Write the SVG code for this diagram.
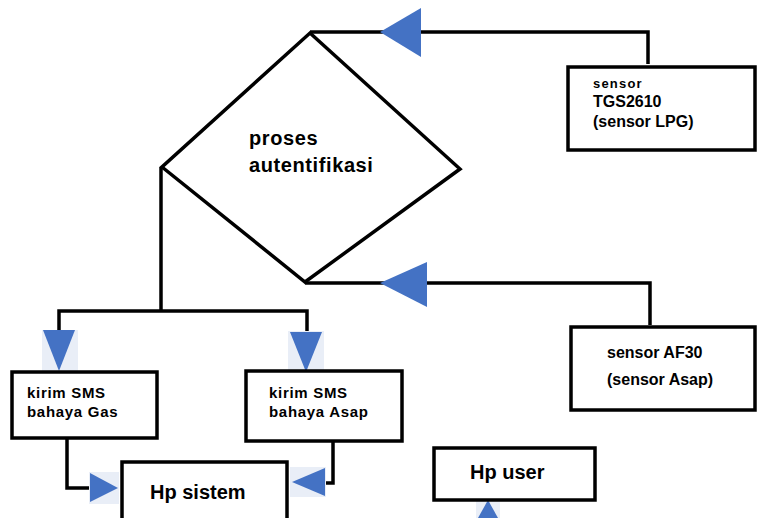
<svg xmlns="http://www.w3.org/2000/svg" width="757" height="518" viewBox="0 0 757 518">
<style>
.box{fill:#fff;stroke:#000;stroke-width:3.5}
.ln{fill:none;stroke:#000;stroke-width:3.5;stroke-linejoin:miter}
.ah{fill:#4472C4}
.bg{fill:#e9eef7}
text{font-family:"Liberation Sans",Arial,sans-serif;font-weight:bold;fill:#000}
.t{font-size:15px;letter-spacing:0.7px}
.ts{font-size:13px;letter-spacing:1.2px}
.tm{font-size:16px}
.tb{font-size:20px}
</style>
<rect width="757" height="518" fill="#fff"/>
<g id="connectors">
<polyline class="ln" points="310,32 648,32 648,64"/>
<polyline class="ln" points="305,283 650,283 650,325"/>
<polyline class="ln" points="161,167 161,311"/>
<polyline class="ln" points="59,332 59,311 307,311 307,333"/>
<polyline class="ln" points="67,438 67,488 92,488"/>
<polyline class="ln" points="333,442 333,483 322,483"/>
<line class="ln" x1="200" y1="512" x2="200" y2="518"/>
<rect class="bg" x="42" y="330" width="36" height="42"/>
<rect class="bg" x="288" y="331" width="36" height="42"/>
<rect class="bg" x="89" y="472" width="30" height="32"/>
<rect class="bg" x="290" y="467" width="36" height="30"/>
<rect class="bg" x="476" y="500" width="24" height="18"/>
<polygon class="ah" points="380,32 421,8 421,57"/>
<polygon class="ah" points="380,283 427,262 427,307"/>
<polygon class="ah" points="43,330 75,330 59,371"/>
<polygon class="ah" points="290,332 322,332 306,372"/>
<polygon class="ah" points="90,473 118,488 90,502"/>
<polygon class="ah" points="292,482 325,468 325,496"/>
<polygon class="ah" points="488,500 498,518 478,518"/>
</g>
<g id="proses">
<polygon class="box" points="310,33 460,169 305,282 162,167"/>
<text class="tb" x="249" y="145" letter-spacing="0.6">proses</text>
<text class="tb" x="249" y="172" letter-spacing="0.6">autentifikasi</text>
</g>
<g id="sensorLPG">
<rect class="box" x="568" y="67" width="187" height="83"/>
<text class="ts" x="593" y="88">sensor</text>
<text class="tm" x="593" y="107">TGS2610</text>
<text class="tm" x="593" y="127">(sensor LPG)</text>
</g>
<g id="sensorAsap">
<rect class="box" x="571" y="327" width="184" height="83"/>
<text class="tm" x="607" y="358">sensor AF30</text>
<text class="tm" x="607" y="385">(sensor Asap)</text>
</g>
<g id="smsGas">
<rect class="box" x="12" y="372" width="145" height="66"/>
<text class="t" x="27" y="398">kirim SMS</text>
<text class="t" x="27" y="417">bahaya Gas</text>
</g>
<g id="smsAsap">
<rect class="box" x="246" y="371" width="156" height="70"/>
<text class="t" x="269" y="398">kirim SMS</text>
<text class="t" x="269" y="417">bahaya Asap</text>
</g>
<g id="hpSistem">
<rect class="box" x="122" y="462" width="165" height="60"/>
<text class="tb" x="150" y="499">Hp sistem</text>
</g>
<g id="hpUser">
<rect class="box" x="434" y="448" width="161" height="52"/>
<text class="tb" x="470" y="479">Hp user</text>
</g>
</svg>
